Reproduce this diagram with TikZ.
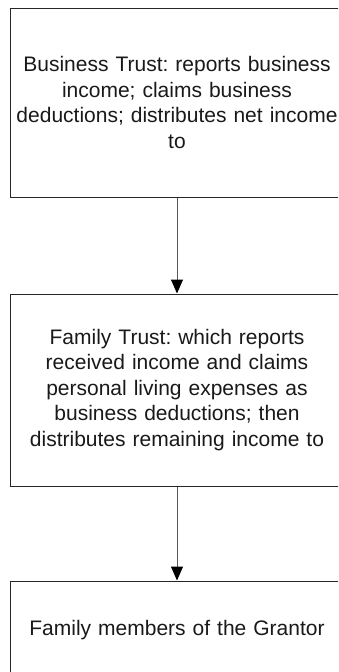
\documentclass[tikz,border=0pt]{standalone}
\usepackage{fontspec}
\setmainfont{Liberation Sans}
\usetikzlibrary{arrows.meta}
\frenchspacing
\begin{document}
\begin{tikzpicture}[x=1pt,y=-1pt,
  flowbox/.style={draw=black!85, line width=1pt, minimum width=334pt, inner sep=0pt,
    text width=330pt, align=center, text=black!90, font=\fontsize{21}{25.5}\selectfont},
  flowarrow/.style={draw=black!65, line width=1pt, -{Triangle[length=14pt,width=12pt,fill=black,color=black]}}]
\useasboundingbox (0,0) rectangle (338,672);
\clip (0,0) rectangle (338,672);
\node[flowbox, minimum height=189pt] (b1) at (177,102.5)
  {Business Trust: reports business\\ income; claims business\\ deductions; distributes net income\\ to};
\node[flowbox, minimum height=192pt] (b2) at (177,390)
  {Family Trust: which reports\\ received income and claims\\ personal living expenses as\\ business deductions; then\\ distributes remaining income to};
\node[flowbox, minimum height=98pt] (b3) at (177,630)
  {Family members of the Grantor};
\draw[flowarrow] (b1.south) -- (b2.north);
\draw[flowarrow] (b2.south) -- (b3.north);
\end{tikzpicture}
\end{document}
